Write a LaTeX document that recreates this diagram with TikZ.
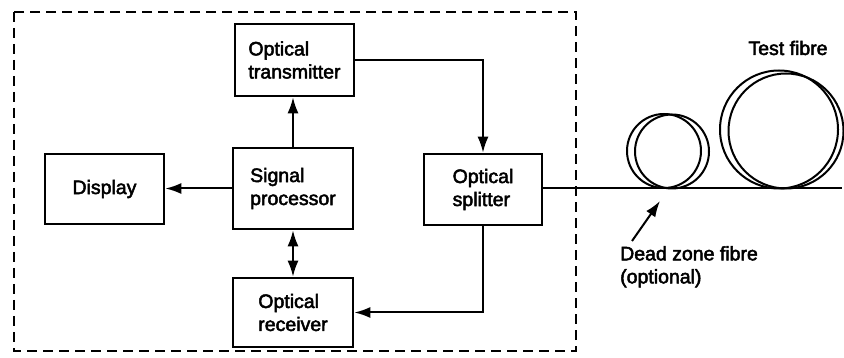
\documentclass[tikz,border=0pt]{standalone}
\usepackage{fontspec}
\setmainfont{Liberation Sans}
\newfontfamily\labfont[BoldFont=Liberation Sans,BoldFeatures={FakeBold=2.5}]{Liberation Sans}
\usetikzlibrary{arrows.meta}
\begin{document}
\begin{tikzpicture}[x=1pt,y=-1pt,
  blk/.style={draw,line width=2.6pt,minimum width=#1,inner sep=0pt,align=left,
    font=\labfont\bfseries\fontsize{19.5}{23}\selectfont},
  conn/.style={line width=2pt},
  tip/.style={-{Latex[length=16pt,width=11pt]}},
  lbl/.style={font=\labfont\bfseries\fontsize{19.5}{23}\selectfont,inner sep=0pt,align=left},
  fibre/.style={line width=2pt},
  enclosure/.style={line width=2.8pt,dash pattern=on 10pt off 6pt}]
\useasboundingbox (0,0) rectangle (844,358);
\fill[white] (0,0) rectangle (844,358);
% enclosure
\draw[enclosure] (14,12) rectangle (576,351);
% blocks
\node[blk=119pt,minimum height=72pt] (tx) at (294.5,60) {Optical\\transmitter};
\node[blk=120pt,minimum height=81pt] (pr) at (293,188.5) {Signal\\processor};
\node[blk=119pt,minimum height=70pt] (di) at (104.5,189) {Display};
\node[blk=120pt,minimum height=69pt] (rx) at (293,312.5) {Optical\\receiver};
\node[blk=118pt,minimum height=71pt] (sp) at (483,189.5) {Optical\\splitter};
% connectors
\draw[conn,tip] (tx.east) -| (sp.north);
\draw[conn,tip] (pr.north) -- (pr.north |- tx.south);
\draw[conn,tip] (pr.west) -- (pr.west -| di.east);
\draw[conn,{Latex[length=16pt,width=11pt]}-{Latex[length=16pt,width=11pt]}] (pr.south) -- (pr.south |- rx.north);
\draw[conn,tip] (sp.south) |- (rx.east);
% fibre
\coordinate (fend) at (842,188.5);
\draw[fibre] (sp.east |- fend) -- (fend);
% dead zone coil
\draw[fibre] (664,151) circle[radius=37];
\draw[fibre] (672,151.5) circle[radius=37];
% test fibre coil
\draw[fibre] (779,129.5) circle[radius=59];
\draw[fibre] (786,131) circle[radius=57.5];
% labels
\node[lbl] (tf) at (788,48) {Test fibre};
\node[lbl,anchor=north west] (dz) at (620,246) {Dead zone fibre\\(optional)};
\coordinate (dzt) at (660,201);
\draw[conn,tip] (632,241) -- (dzt);
\end{tikzpicture}
\end{document}
